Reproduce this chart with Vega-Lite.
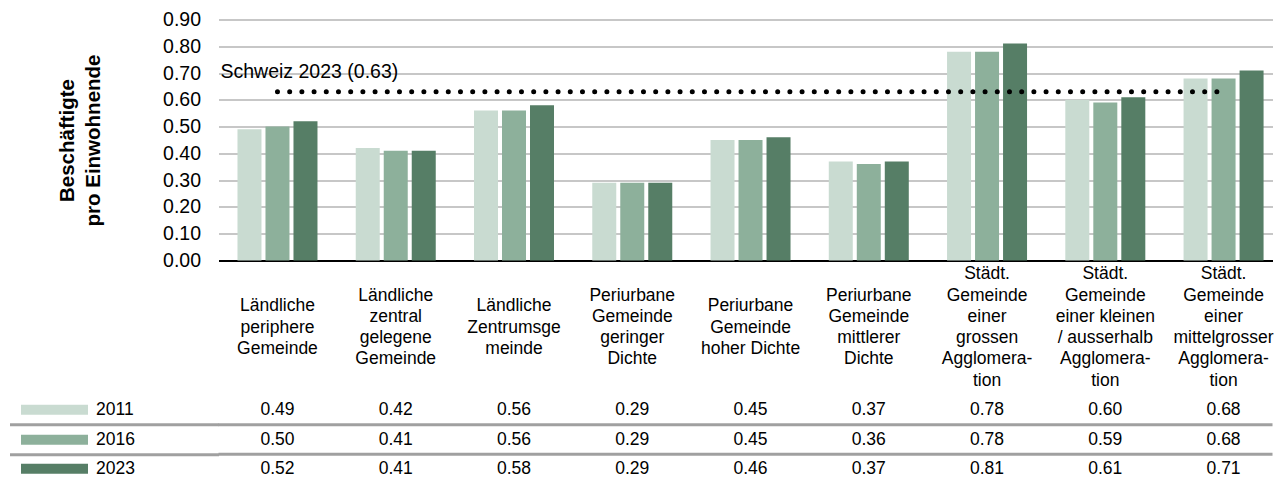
{
  "$schema": "https://vega.github.io/schema/vega-lite/v6.json",
  "padding": {"left": 7.5, "top": 9.5, "right": 0, "bottom": 0},
  "background": "white",
  "bounds": "flush",
  "spacing": 134.75,
  "config": {
    "font": "Liberation Sans",
    "view": {"stroke": null},
    "axis": {"labelColor": "black", "titleColor": "black"}
  },
  "datasets": {
    "rows": [
      {"cat": "Ländliche|periphere|Gemeinde", "year": "2011", "value": 0.49},
      {"cat": "Ländliche|zentral|gelegene|Gemeinde", "year": "2011", "value": 0.42},
      {"cat": "Ländliche|Zentrumsge|meinde", "year": "2011", "value": 0.56},
      {"cat": "Periurbane|Gemeinde|geringer|Dichte", "year": "2011", "value": 0.29},
      {"cat": "Periurbane|Gemeinde|hoher Dichte", "year": "2011", "value": 0.45},
      {"cat": "Periurbane|Gemeinde|mittlerer|Dichte", "year": "2011", "value": 0.37},
      {"cat": "Städt.|Gemeinde|einer|grossen|Agglomera-|tion", "year": "2011", "value": 0.78},
      {"cat": "Städt.|Gemeinde|einer kleinen|/ ausserhalb|Agglomera-|tion", "year": "2011", "value": 0.60},
      {"cat": "Städt.|Gemeinde|einer|mittelgrosser|Agglomera-|tion", "year": "2011", "value": 0.68},
      {"cat": "Ländliche|periphere|Gemeinde", "year": "2016", "value": 0.50},
      {"cat": "Ländliche|zentral|gelegene|Gemeinde", "year": "2016", "value": 0.41},
      {"cat": "Ländliche|Zentrumsge|meinde", "year": "2016", "value": 0.56},
      {"cat": "Periurbane|Gemeinde|geringer|Dichte", "year": "2016", "value": 0.29},
      {"cat": "Periurbane|Gemeinde|hoher Dichte", "year": "2016", "value": 0.45},
      {"cat": "Periurbane|Gemeinde|mittlerer|Dichte", "year": "2016", "value": 0.36},
      {"cat": "Städt.|Gemeinde|einer|grossen|Agglomera-|tion", "year": "2016", "value": 0.78},
      {"cat": "Städt.|Gemeinde|einer kleinen|/ ausserhalb|Agglomera-|tion", "year": "2016", "value": 0.59},
      {"cat": "Städt.|Gemeinde|einer|mittelgrosser|Agglomera-|tion", "year": "2016", "value": 0.68},
      {"cat": "Ländliche|periphere|Gemeinde", "year": "2023", "value": 0.52},
      {"cat": "Ländliche|zentral|gelegene|Gemeinde", "year": "2023", "value": 0.41},
      {"cat": "Ländliche|Zentrumsge|meinde", "year": "2023", "value": 0.58},
      {"cat": "Periurbane|Gemeinde|geringer|Dichte", "year": "2023", "value": 0.29},
      {"cat": "Periurbane|Gemeinde|hoher Dichte", "year": "2023", "value": 0.46},
      {"cat": "Periurbane|Gemeinde|mittlerer|Dichte", "year": "2023", "value": 0.37},
      {"cat": "Städt.|Gemeinde|einer|grossen|Agglomera-|tion", "year": "2023", "value": 0.81},
      {"cat": "Städt.|Gemeinde|einer kleinen|/ ausserhalb|Agglomera-|tion", "year": "2023", "value": 0.61},
      {"cat": "Städt.|Gemeinde|einer|mittelgrosser|Agglomera-|tion", "year": "2023", "value": 0.71}
    ],
    "ref": [
      {"from": "Ländliche|periphere|Gemeinde", "to": "Städt.|Gemeinde|einer|mittelgrosser|Agglomera-|tion", "value": 0.63, "label": "Schweiz 2023 (0.63)"}
    ]
  },
  "vconcat": [
    {
      "width": 1054,
      "height": 241,
      "layer": [
        {
          "data": {"name": "rows"},
          "mark": {"type": "bar"},
          "encoding": {
            "x": {
              "field": "cat", "type": "nominal",
              "scale": {
                "type": "band",
                "domain": ["Ländliche|periphere|Gemeinde", "Ländliche|zentral|gelegene|Gemeinde", "Ländliche|Zentrumsge|meinde", "Periurbane|Gemeinde|geringer|Dichte", "Periurbane|Gemeinde|hoher Dichte", "Periurbane|Gemeinde|mittlerer|Dichte", "Städt.|Gemeinde|einer|grossen|Agglomera-|tion", "Städt.|Gemeinde|einer kleinen|/ ausserhalb|Agglomera-|tion", "Städt.|Gemeinde|einer|mittelgrosser|Agglomera-|tion"],
                "paddingInner": 0.3235, "paddingOuter": 0.118, "align": 0.68
              },
              "axis": {
                "title": null,
                "labelExpr": "split((length(split(datum.label, '|')) == 3 ? '\u200b|\u200b|\u200b|' : (length(split(datum.label, '|')) == 4 ? '\u200b|\u200b|' : '')) + replace(datum.label, regexp('\\\\|', 'g'), '|\u200b|'), '|')",
                "labelAngle": 0,
                "labelFontSize": 17.5,
                "labelLineHeight": 10.65,
                "labelBaseline": "middle",
                "labelPadding": 13.25,
                "labelLimit": 400,
                "labelOverlap": false,
                "labelBound": false,
                "ticks": false,
                "domainColor": "black",
                "domainWidth": 2,
                "grid": false
              }
            },
            "xOffset": {
              "field": "year", "type": "nominal",
              "scale": {"domain": ["2011", "2016", "2023"], "paddingInner": 0.143, "paddingOuter": 0}
            },
            "y": {
              "field": "value", "type": "quantitative",
              "scale": {"domain": [0, 0.9], "nice": false, "zero": true},
              "axis": {
                "title": ["Beschäftigte", "pro Einwohnende"],
                "titleFontSize": 20.5,
                "titleFontWeight": "bold",
                "titleLineHeight": 26,
                "titlePadding": 59,
                "values": [0, 0.1, 0.2, 0.3, 0.4, 0.5, 0.6, 0.7, 0.8, 0.9],
                "tickCount": 10,
                "format": ".2f",
                "labelFontSize": 19.5,
                "labelPadding": 18,
                "labelOverlap": false,
                "labelBound": false,
                "ticks": false,
                "domain": false,
                "grid": true,
                "gridColor": "#b5b5b5",
                "gridWidth": 1.5
              }
            },
            "color": {
              "field": "year", "type": "nominal",
              "scale": {"domain": ["2011", "2016", "2023"], "range": ["#c9dbd1", "#8db09b", "#567e66"]},
              "legend": null
            }
          }
        },
        {
          "data": {"name": "ref"},
          "mark": {"type": "rule", "strokeDash": [0, 12.2], "strokeCap": "round", "strokeWidth": 5, "color": "black"},
          "encoding": {
            "x": {"field": "from", "type": "nominal"},
            "x2": {"field": "to"},
            "y": {
              "field": "value", "type": "quantitative",
              "axis": {
                "title": ["Beschäftigte", "pro Einwohnende"],
                "titleFontSize": 20.5,
                "titleFontWeight": "bold",
                "titleLineHeight": 26,
                "titlePadding": 59,
                "values": [0, 0.1, 0.2, 0.3, 0.4, 0.5, 0.6, 0.7, 0.8, 0.9],
                "tickCount": 10,
                "format": ".2f",
                "labelFontSize": 19.5,
                "labelPadding": 18,
                "labelOverlap": false,
                "labelBound": false,
                "ticks": false,
                "domain": false,
                "grid": true,
                "gridColor": "#b5b5b5",
                "gridWidth": 1.5
              }
            }
          }
        },
        {
          "data": {"name": "ref"},
          "mark": {"type": "text", "align": "left", "baseline": "middle", "fontSize": 19.5, "dx": -17, "dy": -20, "color": "black"},
          "encoding": {
            "x": {"field": "from", "type": "nominal", "bandPosition": 0},
            "y": {
              "field": "value", "type": "quantitative",
              "axis": {
                "title": ["Beschäftigte", "pro Einwohnende"],
                "titleFontSize": 20.5,
                "titleFontWeight": "bold",
                "titleLineHeight": 26,
                "titlePadding": 59,
                "values": [0, 0.1, 0.2, 0.3, 0.4, 0.5, 0.6, 0.7, 0.8, 0.9],
                "tickCount": 10,
                "format": ".2f",
                "labelFontSize": 19.5,
                "labelPadding": 18,
                "labelOverlap": false,
                "labelBound": false,
                "ticks": false,
                "domain": false,
                "grid": true,
                "gridColor": "#b5b5b5",
                "gridWidth": 1.5
              }
            },
            "text": {"field": "label"}
          }
        }
      ]
    },
    {
      "width": 1054,
      "height": 88.5,
      "data": {"name": "rows"},
      "resolve": {"axis": {"y": "independent"}},
      "layer": [
        {
          "mark": {"type": "text", "fontSize": 17.5, "color": "black", "baseline": "middle"},
          "encoding": {
            "x": {
              "field": "cat", "type": "nominal", "axis": null,
              "scale": {
                "type": "band",
                "domain": ["Ländliche|periphere|Gemeinde", "Ländliche|zentral|gelegene|Gemeinde", "Ländliche|Zentrumsge|meinde", "Periurbane|Gemeinde|geringer|Dichte", "Periurbane|Gemeinde|hoher Dichte", "Periurbane|Gemeinde|mittlerer|Dichte", "Städt.|Gemeinde|einer|grossen|Agglomera-|tion", "Städt.|Gemeinde|einer kleinen|/ ausserhalb|Agglomera-|tion", "Städt.|Gemeinde|einer|mittelgrosser|Agglomera-|tion"],
                "paddingInner": 0.3235, "paddingOuter": 0.118, "align": 0.68
              }
            },
            "y": {
              "field": "year", "type": "nominal",
              "scale": {"type": "band", "domain": ["2011", "2016", "2023"], "paddingInner": 0, "paddingOuter": 0},
              "axis": {
                "orient": "left",
                "title": null,
                "offset": 131,
                "domain": false,
                "grid": false,
                "ticks": true,
                "tickSize": 67,
                "tickWidth": 10,
                "tickColor": {
                  "condition": [
                    {"test": "datum.value === '2011'", "value": "#c9dbd1"},
                    {"test": "datum.value === '2016'", "value": "#8db09b"}
                  ],
                  "value": "#567e66"
                },
                "labelAlign": "left",
                "labelBaseline": "middle",
                "labelPadding": -75,
                "labelFontSize": 17.5
              }
            },
            "text": {"field": "value", "type": "quantitative", "format": ".2f"}
          }
        },
        {
          "transform": [
            {"aggregate": [], "groupby": ["year"]},
            {"filter": "datum.year !== '2023'"}
          ],
          "mark": {"type": "rule", "strokeWidth": 3, "color": "#a0a0a0"},
          "encoding": {
            "y": {
              "field": "year", "type": "nominal", "bandPosition": 1,
              "axis": {
                "orient": "left",
                "title": null,
                "bandPosition": 1,
                "domain": false,
                "grid": false,
                "labels": false,
                "ticks": true,
                "tickSize": 209,
                "tickWidth": 3,
                "tickColor": "#a0a0a0"
              }
            }
          }
        }
      ]
    }
  ]
}
